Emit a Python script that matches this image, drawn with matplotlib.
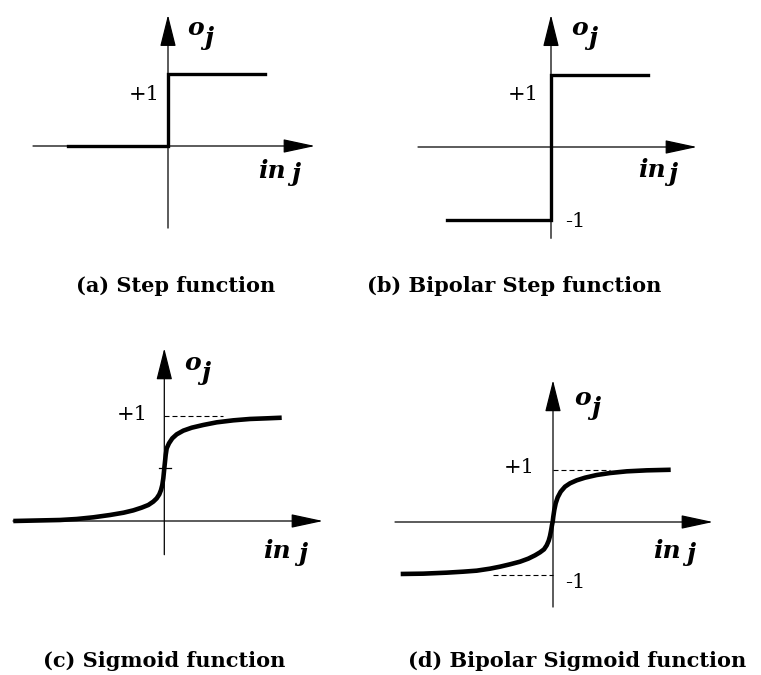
import matplotlib
matplotlib.use('Agg')
import matplotlib.pyplot as plt

W, H = 761, 675

# step functions (x in tenths of a pixel unit, y in output units)
step_x = [-10.0, 0.0, 0.0, 9.7]
step_y = [0, 0, 1, 1]
bstep_x = [-10.4, 0.0, 0.0, 9.7]
bstep_y = [-1, -1, 1, 1]

# sigmoid, values
sig_x = [-15.10, -10.43, -8.76, -7.10, -5.43, -4.07, -3.10, -2.26, -1.60, -1.10,
         -0.76, -0.50, -0.33, -0.20, -0.10, 0.0, 0.07, 0.14, 0.24, 0.47,
         0.80, 1.24, 1.90, 2.74, 3.90, 5.24, 6.90, 8.57, 10.24, 11.74]
sig_y = [0.0, 0.0095, 0.019, 0.035, 0.057, 0.079, 0.101, 0.127, 0.152, 0.184,
         0.215, 0.253, 0.294, 0.342, 0.405, 0.50, 0.563, 0.627, 0.69, 0.738,
         0.785, 0.823, 0.858, 0.886, 0.912, 0.937, 0.956, 0.969, 0.975, 0.981]
sig_mid = 0.5

# bipolar sigmoid
bsig_x = [-15.23, -12.97, -10.63, -8.97, -7.63, -6.30, -5.30, -4.30, -3.30, -2.47,
          -1.80, -1.30, -0.90, -0.63, -0.43, -0.30, -0.20, -0.10, -0.03, 0.03,
          0.13, 0.27, 0.47, 0.77, 1.20, 1.70, 2.37, 3.20, 4.37, 5.70,
          7.37, 9.37, 11.77]
bsig_y = [-0.990, -0.984, -0.965, -0.946, -0.927, -0.889, -0.851, -0.806, -0.756, -0.698,
          -0.635, -0.578, -0.521, -0.444, -0.356, -0.267, -0.171, -0.057, 0.006, 0.102,
          0.229, 0.356, 0.470, 0.578, 0.673, 0.737, 0.794, 0.844, 0.895, 0.933,
          0.965, 0.984, 0.995]

captions = ['(a) Step function', '(b) Bipolar Step function',
            '(c) Sigmoid function', '(d) Bipolar Sigmoid function']

fig = plt.figure(figsize=(W / 100, H / 100), dpi=100)
fig.patch.set_facecolor('white')

SERIF = 'DejaVu Serif'


def panel(box, origin, sy, sx=10.0):
    x0, y0, x1, y1 = box
    ox, oy = origin
    ax = fig.add_axes([x0 / W, 1 - y1 / H, (x1 - x0) / W, (y1 - y0) / H])
    ax.set_xlim((x0 - ox) / sx, (x1 - ox) / sx)
    ax.set_ylim((oy - y1) / sy, (oy - y0) / sy)
    ax.axis('off')
    return ax


def axes_arrows(ax, xr, yr):
    ax.annotate('', xy=(xr[1], 0), xytext=(xr[0], 0),
                arrowprops=dict(arrowstyle='-|>,head_length=20,head_width=4.3',
                                mutation_scale=1, lw=0.9, color='black',
                                shrinkA=0, shrinkB=0))
    ax.annotate('', xy=(0, yr[1]), xytext=(0, yr[0]),
                arrowprops=dict(arrowstyle='-|>,head_length=20,head_width=5.0',
                                mutation_scale=1, lw=0.9, color='black',
                                shrinkA=0, shrinkB=0))


def label(ax, s, dx, dy, **kw):
    ax.annotate(s, xy=(0, 0), xytext=(dx, dy), textcoords='offset pixels',
                va='baseline', family=SERIF, annotation_clip=False, **kw)


def axis_names(ax, o, inn, j2):
    style = dict(fontsize=18, fontweight='bold', style='italic')
    label(ax, 'o', o[0], o[1], ha='left', **style)
    label(ax, 'j', o[0] + 17, o[1] - 10, ha='left', **style)
    label(ax, 'in', inn[0], inn[1], ha='left', **style)
    label(ax, 'j', j2[0], j2[1], ha='left', **style)


dash = dict(color='black', lw=0.8, dashes=(4.5, 2.7))

# (a) step
ax = panel((0, 0, 380, 255), (168, 146), 72)
axes_arrows(ax, (-13.5, 14.7), (-1.14, 1.82))
ax.plot(step_x, step_y, color='black', lw=2.4, solid_joinstyle='miter')
axis_names(ax, (19, 111), (90, -32), (123, -35))
label(ax, '+1', -8, 46, ha='right', fontsize=15)

# (b) bipolar step
ax = panel((380, 0, 761, 255), (551, 147), 72.5)
axes_arrows(ax, (-13.3, 14.6), (-1.26, 1.82))
ax.plot(bstep_x, bstep_y, color='black', lw=2.4, solid_joinstyle='miter')
axis_names(ax, (20, 112), (87, -30), (117, -34))
label(ax, '+1', -12, 47, ha='right', fontsize=15)
label(ax, '-1', 14, -80, ha='left', fontsize=15)

# (c) sigmoid
ax = panel((0, 330, 380, 600), (164.3, 521), 105.3)
axes_arrows(ax, (-15.13, 15.87), (-0.32, 1.64))
ax.plot([0, 5.9], [1, 1], **dash)
ax.plot([-0.5, 0.7], [sig_mid, sig_mid], color='black', lw=0.9)
ax.plot(sig_x, sig_y, color='black', lw=3.3, solid_capstyle='butt')
axis_names(ax, (20, 151), (99, -37), (134, -40))
label(ax, '+1', -17, 101, ha='right', fontsize=15)

# (d) bipolar sigmoid
ax = panel((380, 330, 761, 620), (553, 522), 52.5)
axes_arrows(ax, (-15.8, 16.0), (-1.62, 2.70))
ax.plot([0, 5.7], [1, 1], **dash)
ax.plot([-6.0, 0], [-1, -1], **dash)
ax.plot(bsig_x, bsig_y, color='black', lw=3.3, solid_capstyle='butt')
axis_names(ax, (21, 117), (100, -36), (133, -39))
label(ax, '+1', -18, 49, ha='right', fontsize=15)
label(ax, '-1', 12, -66, ha='left', fontsize=15)

# captions under each panel
for s, cx, by in zip(captions, [176, 514, 164.5, 577], [292, 292, 667, 667]):
    fig.text(cx / W, 1 - by / H, s, ha='center', va='baseline',
             family=SERIF, fontweight='bold', fontsize=15)

fig.savefig('out.png', dpi=100, facecolor='white')
